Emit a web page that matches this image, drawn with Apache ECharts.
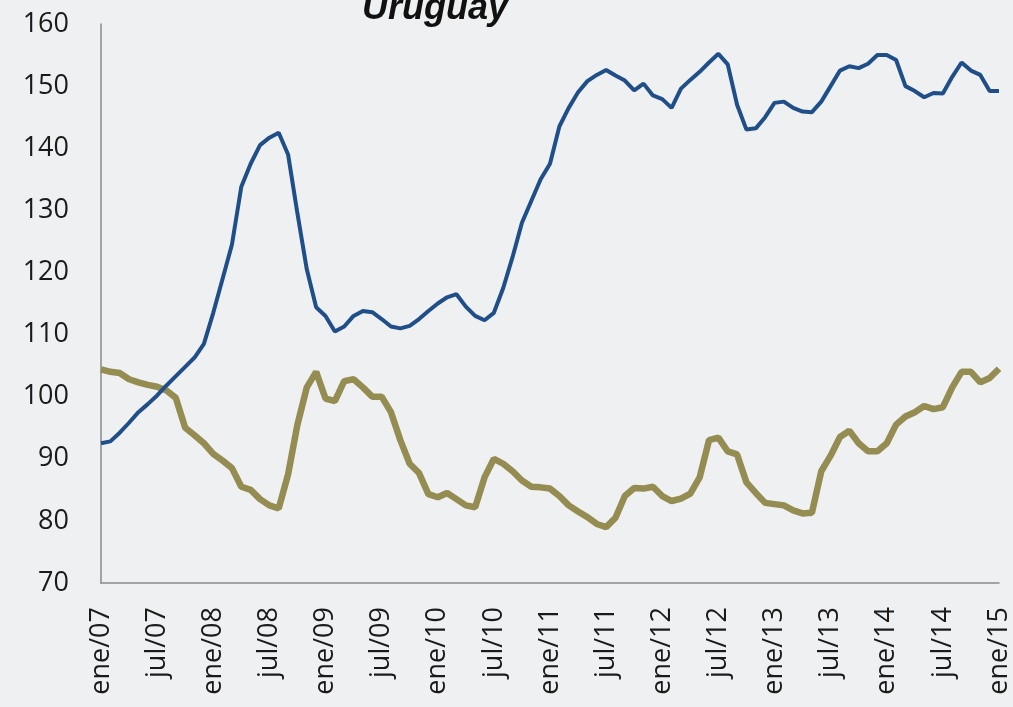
<!DOCTYPE html>
<html>
<head>
<meta charset="utf-8">
<script src="https://cdn.jsdelivr.net/npm/echarts@6/dist/echarts.min.js"></script>
<style>
  html, body { margin: 0; padding: 0; background: #eef0f2; }
  #chart { width: 1013px; height: 707px; }
</style>
</head>
<body>
<div id="chart"></div>
<script>
// meses ene/07 .. ene/15
const monthNames = ['ene', 'feb', 'mar', 'abr', 'may', 'jun', 'jul', 'ago', 'sep', 'oct', 'nov', 'dic']
const months = []
for (let y = 7; y <= 15; y++) {
  for (let m = 0; m < 12; m++) {
    if (y === 15 && m > 0) break
    months.push(monthNames[m] + '/' + String(y).padStart(2, '0'))
  }
}

// serie azul
const blueValues = [
  92.5, 92.8, 94.2, 95.8, 97.5, 98.8, 100.2, 101.8, 103.3, 104.8, 106.3, 108.5,
  113.5, 119, 124.5, 133.8, 137.5, 140.5, 141.7, 142.5, 139, 129.5, 120.5, 114.4,
  113, 110.5, 111.3, 113, 113.8, 113.6, 112.5, 111.3, 111, 111.4, 112.5, 113.8,
  115, 116, 116.5, 114.5, 113, 112.3, 113.5, 117.5, 122.5, 128, 131.5, 135,
  137.5, 143.5, 146.5, 149, 150.8, 151.8, 152.6, 151.7, 150.9, 149.3, 150.4, 148.5,
  147.9, 146.5, 149.6, 151, 152.3, 153.8, 155.2, 153.5, 147, 143, 143.2, 145,
  147.3, 147.5, 146.5, 145.9, 145.8, 147.5, 150, 152.5, 153.2, 152.9, 153.6, 155,
  155, 154.2, 150, 149.2, 148.2, 148.9, 148.8, 151.5, 153.8, 152.5, 151.8, 149.2,
  149.2
]

// serie dorada
const goldValues = [
  104.4, 104, 103.8, 102.8, 102.3, 101.9, 101.6, 101, 99.8, 95, 93.8, 92.5,
  90.8, 89.7, 88.5, 85.5, 85, 83.5, 82.5, 82, 87.5, 95.5, 101.5, 104,
  99.7, 99.3, 102.5, 102.8, 101.5, 100, 100, 97.5, 93, 89.2, 87.7, 84.3,
  83.8, 84.5, 83.5, 82.5, 82.2, 87, 90, 89.2, 88, 86.5, 85.5, 85.4,
  85.2, 84, 82.5, 81.5, 80.6, 79.5, 79, 80.5, 84, 85.3, 85.2, 85.5,
  84, 83.2, 83.6, 84.4, 87, 93, 93.4, 91.2, 90.7, 86.2, 84.5, 82.9,
  82.7, 82.5, 81.7, 81.2, 81.3, 88, 90.5, 93.5, 94.5, 92.5, 91.2, 91.2,
  92.5, 95.5, 96.8, 97.5, 98.5, 98, 98.3, 101.5, 104, 104, 102.3, 103,
  104.5
]

const yMin = 70
const yMax = 160
const yStep = 10

const chart = echarts.init(document.getElementById('chart'))

const labelFont = {
  color: '#1a1a1a',
  fontSize: 27,
  fontFamily: 'Open Sans'
}

chart.setOption({
  backgroundColor: '#eef0f2',
  animation: false,
  title: {
    text: 'Uruguay',
    left: 357,
    top: -14,
    textStyle: {
      color: '#111',
      fontSize: 36,
      fontWeight: 'bold',
      fontStyle: 'italic',
      fontFamily: 'Liberation Sans'
    }
  },
  grid: {
    left: 101,
    right: 14,
    top: 24,
    bottom: 124
  },
  xAxis: {
    type: 'category',
    data: months,
    boundaryGap: false,
    axisLine: { lineStyle: { color: '#8a8a8a', width: 1.5 } },
    axisTick: { show: false },
    axisLabel: Object.assign({
      interval: 5,
      rotate: 90,
      margin: 24
    }, labelFont),
    splitLine: { show: false }
  },
  yAxis: {
    type: 'value',
    min: yMin,
    max: yMax,
    interval: yStep,
    axisLine: { show: true, lineStyle: { color: '#8a8a8a', width: 1.5 } },
    axisTick: { show: false },
    axisLabel: Object.assign({ margin: 32 }, labelFont),
    splitLine: { show: false }
  },
  series: [
    {
      type: 'line',
      data: blueValues,
      symbol: 'none',
      lineStyle: { color: '#1f4e88', width: 4 },
      z: 3
    },
    {
      type: 'line',
      data: goldValues,
      symbol: 'none',
      lineStyle: { color: '#958c52', width: 6.5 },
      z: 2
    }
  ]
})
</script>
</body>
</html>
